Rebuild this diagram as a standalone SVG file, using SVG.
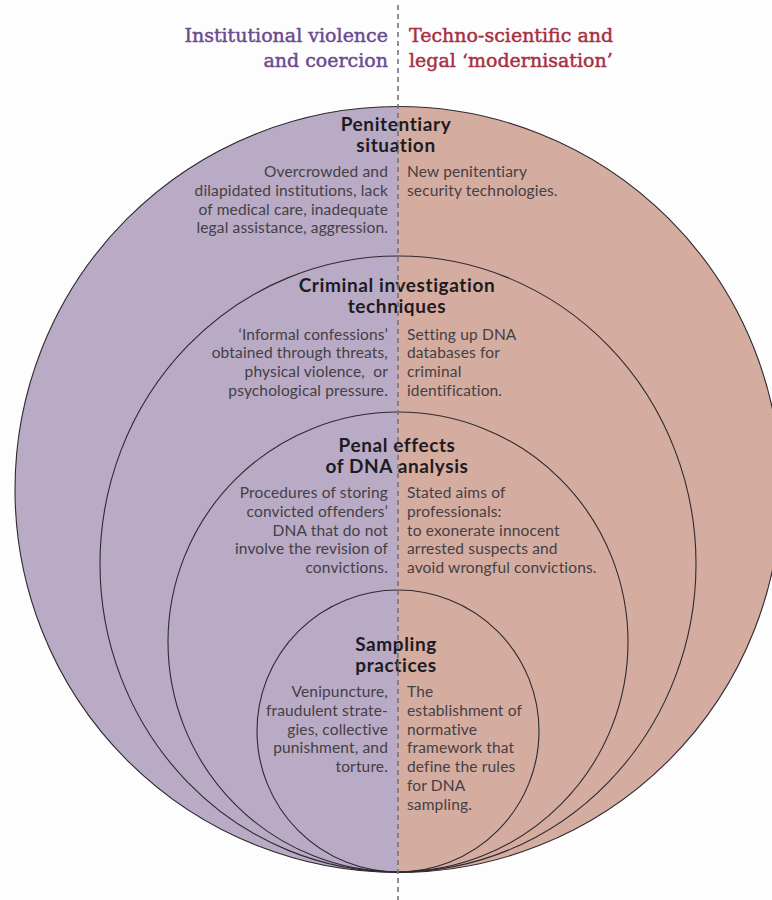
<svg xmlns="http://www.w3.org/2000/svg" width="772" height="900" viewBox="0 0 772 900">
<style>
.bg{fill:#fdfdfd}
.lfill{fill:#b9aac6}
.rfill{fill:#d5aca0}
.ring{fill:none;stroke:#2e2a30;stroke-width:1.1}
.cap{font-family:"DejaVu Serif","Liberation Serif",serif;font-size:19px;font-weight:normal;stroke-width:0.45px}
.capL{fill:#6b4a8e;stroke:#6b4a8e;text-anchor:end}
.capR{fill:#a72f3f;stroke:#a72f3f;text-anchor:start}
.head{font-family:Lato,"Noto Sans",sans-serif;font-size:19px;font-weight:700;fill:#1d1b1f;text-anchor:middle;letter-spacing:0.6px}
.body{font-family:Lato,"Noto Sans",sans-serif;font-size:15.5px;fill:#444044;letter-spacing:0.15px}
.bl{text-anchor:end}
.br{text-anchor:start}
.div{stroke:#76727a;stroke-width:1.6;stroke-dasharray:5 4;fill:none}
</style>
<rect class="bg" x="0" y="0" width="772" height="900"/>
<g id="captions">
<text class="cap capL" x="388" y="42">Institutional violence</text>
<text class="cap capL" x="388" y="67">and coercion</text>
<text class="cap capR" x="409" y="42">Techno-scientific and</text>
<text class="cap capR" x="409" y="67">legal ‘modernisation’</text>
</g>
<g id="background-halves">
<path class="lfill" d="M398,106.5 A383,383 0 0 0 398,872.5 Z"/>
<path class="rfill" d="M398,106.5 A383,383 0 0 1 398,872.5 Z"/>
</g>
<g id="penitentiary-situation">
<circle class="ring" cx="398" cy="489.5" r="383"/>
<text class="head" x="396" y="131">Penitentiary</text>
<text class="head" x="396" y="152">situation</text>
<text class="body bl" x="388" y="177">Overcrowded and</text>
<text class="body bl" x="388" y="196">dilapidated institutions, lack</text>
<text class="body bl" x="388" y="215">of medical care, inadequate</text>
<text class="body bl" x="388" y="233">legal assistance, aggression.</text>
<text class="body br" x="407" y="177">New penitentiary</text>
<text class="body br" x="407" y="196">security technologies.</text>
</g>
<g id="criminal-investigation-techniques">
<ellipse class="ring" cx="398" cy="564" rx="298" ry="308"/>
<text class="head" x="397" y="292">Criminal investigation</text>
<text class="head" x="397" y="313">techniques</text>
<text class="body bl" x="388" y="340">‘Informal confessions’</text>
<text class="body bl" x="388" y="358">obtained through threats,</text>
<text class="body bl" x="388" y="377" xml:space="preserve">physical violence,  or</text>
<text class="body bl" x="388" y="396">psychological pressure.</text>
<text class="body br" x="407" y="340">Setting up DNA</text>
<text class="body br" x="407" y="358">databases for</text>
<text class="body br" x="407" y="377">criminal</text>
<text class="body br" x="407" y="396">identification.</text>
</g>
<g id="penal-effects-of-dna-analysis">
<circle class="ring" cx="398" cy="642" r="230"/>
<text class="head" x="397" y="452">Penal effects</text>
<text class="head" x="397" y="473">of DNA analysis</text>
<text class="body bl" x="388" y="498">Procedures of storing</text>
<text class="body bl" x="388" y="517">convicted offenders’</text>
<text class="body bl" x="388" y="536">DNA that do not</text>
<text class="body bl" x="388" y="554">involve the revision of</text>
<text class="body bl" x="388" y="573">convictions.</text>
<text class="body br" x="407" y="498">Stated aims of</text>
<text class="body br" x="407" y="517">professionals:</text>
<text class="body br" x="407" y="536">to exonerate innocent</text>
<text class="body br" x="407" y="554">arrested suspects and</text>
<text class="body br" x="407" y="573">avoid wrongful convictions.</text>
</g>
<g id="sampling-practices">
<circle class="ring" cx="398" cy="731" r="141"/>
<text class="head" x="396" y="651">Sampling</text>
<text class="head" x="396" y="672">practices</text>
<text class="body bl" x="388" y="697">Venipuncture,</text>
<text class="body bl" x="388" y="716">fraudulent strate-</text>
<text class="body bl" x="388" y="735">gies, collective</text>
<text class="body bl" x="388" y="753">punishment, and</text>
<text class="body bl" x="388" y="772">torture.</text>
<text class="body br" x="407" y="697">The</text>
<text class="body br" x="407" y="716">establishment of</text>
<text class="body br" x="407" y="735">normative</text>
<text class="body br" x="407" y="753">framework that</text>
<text class="body br" x="407" y="772">define the rules</text>
<text class="body br" x="407" y="791">for DNA</text>
<text class="body br" x="407" y="810">sampling.</text>
</g>
<g id="connectors">
<line class="div" x1="398" y1="5" x2="398" y2="900"/>
</g>
</svg>
